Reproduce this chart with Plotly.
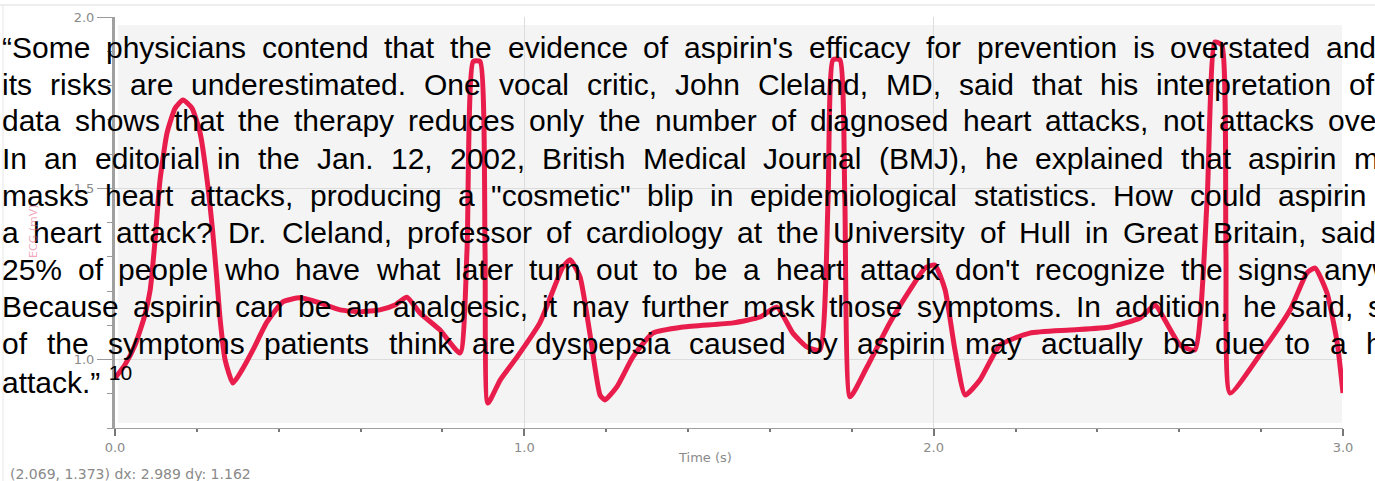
import plotly.graph_objects as go

W, H = 1375, 481

# ---------------- data ----------------
time_s = [0.000, 0.024, 0.049, 0.073, 0.086, 0.098, 0.110, 0.127, 0.147, 0.166,
          0.188, 0.208, 0.225, 0.239, 0.249, 0.257, 0.269, 0.288, 0.310, 0.337,
          0.371, 0.410, 0.452, 0.501, 0.550, 0.599, 0.647, 0.684, 0.713, 0.745,
          0.794, 0.843, 0.860, 0.875, 0.892, 0.904, 0.911, 0.941, 0.982, 1.038,
          1.094, 1.112, 1.136, 1.160, 1.185, 1.197, 1.226, 1.265, 1.314, 1.388,
          1.510, 1.576, 1.617, 1.656, 1.691, 1.722, 1.742, 1.754, 1.771, 1.783,
          1.796, 1.837, 1.893, 1.942, 1.979, 2.003, 2.028, 2.052, 2.077, 2.113,
          2.162, 2.235, 2.333, 2.431, 2.504, 2.541, 2.565, 2.602, 2.638, 2.668,
          2.687, 2.704, 2.714, 2.724, 2.805, 2.871, 2.912, 2.932, 2.961, 2.986,
          3.000]
voltage_mv = [0.946, 0.984, 1.042, 1.130, 1.203, 1.349, 1.524, 1.661, 1.734, 1.758,
              1.734, 1.661, 1.524, 1.369, 1.232, 1.115, 0.999, 0.931, 0.969, 1.028,
              1.109, 1.168, 1.180, 1.165, 1.145, 1.139, 1.145, 1.159, 1.182, 1.136,
              1.086, 1.019, 1.320, 1.870, 1.870, 1.320, 0.873, 0.940, 1.007, 1.107,
              1.270, 1.291, 1.241, 1.077, 0.896, 0.882, 0.920, 1.007, 1.077, 1.095,
              1.107, 1.124, 1.153, 1.077, 1.036, 1.028, 1.466, 1.875, 1.875, 1.466,
              0.891, 0.978, 1.107, 1.203, 1.267, 1.276, 1.203, 1.028, 0.896, 0.940,
              1.042, 1.077, 1.086, 1.095, 1.121, 1.159, 1.115, 1.042, 1.028, 1.466,
              1.927, 1.918, 1.320, 0.902, 1.028, 1.145, 1.253, 1.267, 1.194, 1.048,
              0.902]

x_tick_vals = [0, 1, 2, 3]
x_tick_text = ["0.0", "1.0", "2.0", "3.0"]
y_tick_vals = [1.0, 1.5, 2.0]
y_tick_text = ["1.0", "1.5", "2.0"]

x_title = "Time (s)"
y_title = "ECG (mV)"
status_text = "(2.069, 1.373) dx: 2.989 dy: 1.162"

quote_lines = [
    "\u201cSome physicians contend that the evidence of aspirin's efficacy for prevention is overstated and",
    "its risks are underestimated. One vocal critic, John Cleland, MD, said that his interpretation of",
    "data shows that the therapy reduces only the number of diagnosed heart attacks, not attacks overall.",
    "In an editorial in the Jan. 12, 2002, British Medical Journal (BMJ), he explained that aspirin merely",
    "masks heart attacks, producing a \"cosmetic\" blip in epidemiological statistics. How could aspirin mask",
    "a heart attack? Dr. Cleland, professor of cardiology at the University of Hull in Great Britain, said about",
    "25% of people who have what later turn out to be a heart attack don't recognize the signs anyway.",
    "Because aspirin can be an analgesic, it may further mask those symptoms. In addition, he said, some",
    "of the symptoms patients think are dyspepsia caused by aspirin may actually be due to a heart",
]
last_line = "attack.\u201d <sup>10</sup>"

# ---------------- layout helpers ----------------
AW = {' ': 278, '!': 278, '"': 355, '%': 889, "'": 191, '(': 333, ')': 333, ',': 278,
      '-': 333, '.': 278, '?': 556, ':': 278, '\u201c': 333, '\u201d': 333,
      'A': 667, 'B': 667, 'C': 722, 'D': 722, 'E': 667, 'F': 611, 'G': 778, 'H': 722,
      'I': 278, 'J': 500, 'K': 667, 'L': 556, 'M': 833, 'N': 722, 'O': 778, 'P': 667,
      'Q': 778, 'R': 722, 'S': 667, 'T': 611, 'U': 722, 'V': 667, 'W': 944, 'X': 667,
      'Y': 667, 'Z': 611,
      'a': 556, 'b': 556, 'c': 500, 'd': 556, 'e': 556, 'f': 278, 'g': 556, 'h': 556,
      'i': 222, 'j': 222, 'k': 500, 'l': 222, 'm': 833, 'n': 556, 'o': 556, 'p': 556,
      'q': 556, 'r': 333, 's': 500, 't': 278, 'u': 556, 'v': 500, 'w': 722, 'x': 500,
      'y': 500, 'z': 500}

FS = 30


def tw(s, size=FS):
    return sum(AW.get(c, 556) for c in s) / 1000.0 * size


# (anchor word index from end, anchor x in px) -> justification per line
anchors = [(-1, 1325), (-1, 1348), (-1, 1327), (-1, 1353), (-2, 1277),
           (-2, 1320), (-1, 1323), (-1, 1367), (-1, 1365)]
X0 = 1
BASE0, LINE_H = 57, 37
BASE_SHIFT = 10

annotations = []
for i, line in enumerate(quote_lines):
    words = line.split(' ')
    k = len(words) + anchors[i][0]
    ax = anchors[i][1]
    wsum = sum(tw(w) for w in words[:k])
    gap = (ax - X0 - wsum) / k
    x = X0
    yc = BASE0 + LINE_H * i - BASE_SHIFT
    for w in words:
        annotations.append(dict(
            text=w, x=x / W, y=1 - yc / H, xref='paper', yref='paper',
            xanchor='left', yanchor='middle', showarrow=False, borderpad=0,
            font=dict(family='Liberation Sans, Arial', size=FS, color='black')))
        x += tw(w) + gap

yc = BASE0 + LINE_H * 9 - BASE_SHIFT
annotations.append(dict(
    text=last_line, x=X0 / W, y=1 - yc / H, xref='paper', yref='paper',
    xanchor='left', yanchor='middle', showarrow=False, borderpad=0,
    font=dict(family='Liberation Sans, Arial', size=FS, color='black')))

# axis titles and status text
annotations.append(dict(text=x_title, x=705 / W, y=1 - 457 / H, xref='paper', yref='paper',
                        xanchor='center', yanchor='middle', showarrow=False,
                        font=dict(family='DejaVu Sans', size=13, color='#8a8a8a')))
annotations.append(dict(text=y_title, x=33 / W, y=1 - 232 / H, xref='paper', yref='paper',
                        xanchor='center', yanchor='middle', showarrow=False, textangle=-90,
                        font=dict(family='DejaVu Sans', size=11, color='rgba(230,90,130,0.55)')))
annotations.append(dict(text=status_text, x=8 / W, y=1 - 474 / H, xref='paper', yref='paper',
                        xanchor='left', yanchor='middle', showarrow=False,
                        font=dict(family='DejaVu Sans', size=14, color='#8a8a8a')))

fig = go.Figure()
fig.add_trace(go.Scatter(
    x=time_s, y=voltage_mv, mode='lines',
    line=dict(color='#e91d4b', width=5, shape='spline', smoothing=0.5),
    hoverinfo='skip', showlegend=False))

shapes = [
    dict(type='rect', xref='paper', yref='paper', x0=118 / W, x1=1342 / W,
         y0=1 - 423 / H, y1=1 - 25 / H, fillcolor='#f4f4f4', line=dict(width=0), layer='below'),
    dict(type='line', xref='paper', yref='paper', x0=0, x1=1, y0=1 - 5 / H, y1=1 - 5 / H,
         line=dict(color='#dddddd', width=1), layer='below'),
    dict(type='line', xref='paper', yref='paper', x0=3 / W, x1=3 / W, y0=0, y1=1 - 5 / H,
         line=dict(color='#e6e6e6', width=1), layer='below'),
]

fig.update_layout(
    width=W, height=H,
    margin=dict(l=0, r=0, t=0, b=0, pad=0, autoexpand=False),
    paper_bgcolor='white', plot_bgcolor='rgba(0,0,0,0)',
    annotations=annotations, shapes=shapes,
    xaxis=dict(domain=[115 / W, 1343 / W], range=[0, 3], tickmode='array', automargin=False,
               tickvals=x_tick_vals, ticktext=x_tick_text, ticks='outside', ticklen=7,
               tickcolor='#777', tickwidth=2,
               minor=dict(dtick=0.2, ticks='outside', ticklen=3, tickcolor='#777', showgrid=False),
               showline=True, linecolor='#a0a0a0', linewidth=1,
               showgrid=True, gridcolor='#dcdcdc', gridwidth=1, zeroline=False,
               tickfont=dict(family='DejaVu Sans', size=13, color='#8a8a8a')),
    yaxis=dict(domain=[1 - 428 / H, 1 - 17 / H], range=[0.8, 2.0], tickmode='array', automargin=False,
               tickvals=y_tick_vals, ticktext=y_tick_text, ticks='outside', ticklen=15,
               tickcolor='#999', tickwidth=1,
               minor=dict(dtick=0.1, ticks='outside', ticklen=5, tickcolor='#999', showgrid=False),
               showline=True, linecolor='#a0a0a0', linewidth=3,
               showgrid=True, gridcolor='#dcdcdc', gridwidth=1, zeroline=False,
               tickfont=dict(family='DejaVu Sans', size=13, color='#8a8a8a')),
)

fig.write_html("out.html", config={'displayModeBar': False},
               post_script="document.body.style.margin='0';document.body.style.overflow='hidden';")
